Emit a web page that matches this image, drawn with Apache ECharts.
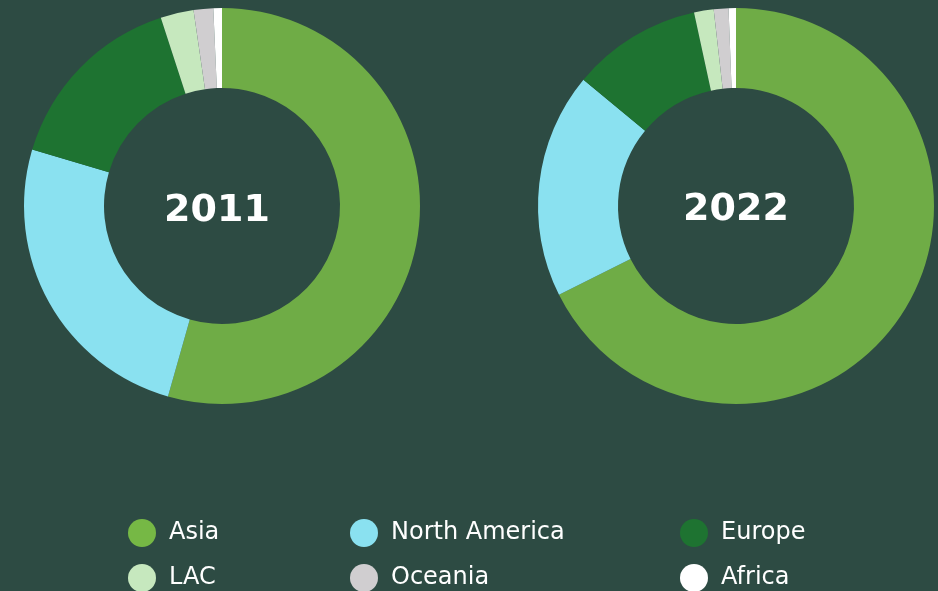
<!DOCTYPE html>
<html>
<head>
<meta charset="utf-8">
<style>
  html, body { margin: 0; padding: 0; background: #2d4b43; }
  #chart { width: 938px; height: 591px; }
</style>
<script src="https://cdn.jsdelivr.net/npm/echarts@6/dist/echarts.min.js"></script>
</head>
<body>
<div id="chart"></div>
<script>
const regions = ['Asia', 'North America', 'Europe', 'LAC', 'Oceania', 'Africa'];
const colors = ['#6fac46', '#8ae1f0', '#1e7331', '#c6e8be', '#d0ced0', '#ffffff'];
const legendColors = ['#76b845', '#8ae1f0', '#1e7331', '#c6e8be', '#d0ced0', '#ffffff'];
const years = ['2011', '2022'];
const share2011 = [54.4, 25.2, 15.4, 2.7, 1.6, 0.7];
const share2022 = [67.6, 18.4, 10.6, 1.6, 1.2, 0.6];

const font = '"DejaVu Sans", Verdana, sans-serif';
const chart = echarts.init(document.getElementById('chart'));

function toData (values) {
  return regions.map((name, i) => ({ name: name, value: values[i] }));
}

function pie (values, cx) {
  return {
    type: 'pie',
    center: [cx, 206],
    radius: [118, 198],
    startAngle: 90,
    clockwise: true,
    silent: true,
    label: { show: false },
    labelLine: { show: false },
    itemStyle: { borderWidth: 0 },
    data: toData(values)
  };
}

// legend laid out as a 3x2 grid, one legend component per entry
const colX = [128, 350, 680];
const rowY = [519, 564];

function legendItem (name, i) {
  return {
    left: colX[i % 3],
    top: rowY[Math.floor(i / 3)],
    padding: 0,
    icon: 'circle',
    itemWidth: 28,
    itemHeight: 28,
    selectedMode: false,
    textStyle: { color: '#ffffff', fontSize: 24, fontFamily: font, padding: [0, 0, 0, 8] },
    data: [{ name: name, itemStyle: { color: legendColors[i] } }]
  };
}

chart.setOption({
  backgroundColor: '#2d4b43',
  animation: false,
  color: colors,
  title: [
    { text: years[0], left: 212, top: 187, textAlign: 'center',
      textStyle: { color: '#ffffff', fontSize: 38, fontWeight: 'bold', fontFamily: font } },
    { text: years[1], left: 731, top: 186, textAlign: 'center',
      textStyle: { color: '#ffffff', fontSize: 38, fontWeight: 'bold', fontFamily: font } }
  ],
  legend: regions.map(legendItem),
  series: [
    pie(share2011, 222),
    pie(share2022, 736)
  ]
});
</script>
</body>
</html>
